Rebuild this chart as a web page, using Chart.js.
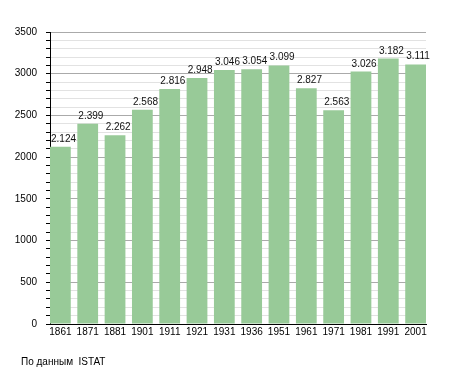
<!DOCTYPE html>
<html>
<head>
<meta charset="utf-8">
<script src="https://cdn.jsdelivr.net/npm/chart.js@4/dist/chart.umd.min.js"></script>
<style>
  body { margin: 0; background: #fff; }
  #wrap { position: relative; width: 455px; height: 373px; }
  #source { position: absolute; left: 21px; top: 356px; font: 10px "Liberation Sans", Arial, sans-serif; color: #000; }
</style>
</head>
<body>
<div id="wrap">
  <canvas id="popChart" width="455" height="373"></canvas>
  <div id="source">По данным&nbsp; ISTAT</div>
</div>
<script>
const years = ["1861", "1871", "1881", "1901", "1911", "1921", "1931", "1936", "1951", "1961", "1971", "1981", "1991", "2001"];
const population = [2124, 2399, 2262, 2568, 2816, 2948, 3046, 3054, 3099, 2827, 2563, 3026, 3182, 3111];
const yTicks = [0, 500, 1000, 1500, 2000, 2500, 3000, 3500];

const FONT = "'Liberation Sans', Arial, sans-serif";
const BAR_PCT = 0.76;

// etichette sopra le barre, formato italiano (2.124), allineate al bordo sinistro della barra
const valueLabels = {
  id: "valueLabels",
  afterDatasetsDraw(chart) {
    const c = chart.ctx;
    const meta = chart.getDatasetMeta(0);
    c.save();
    c.font = "10px " + FONT;
    c.fillStyle = "#111";
    c.textAlign = "left";
    c.textBaseline = "alphabetic";
    meta.data.forEach((bar, i) => {
      const txt = population[i].toLocaleString("it-IT");
      c.fillText(txt, bar.x - bar.width / 2 + 1, bar.y - 5);
    });
    c.restore();
  }
};

// x lineare: le barre toccano i bordi dell'area del grafico
const points = population.map((v, i) => ({ x: i, y: v }));

new Chart(document.getElementById("popChart"), {
  type: "bar",
  data: {
    datasets: [{
      data: points,
      backgroundColor: "#98ca98",
      barPercentage: BAR_PCT,
      categoryPercentage: 1
    }]
  },
  options: {
    responsive: false,
    animation: false,
    layout: { padding: { left: 0, top: 32, right: 29, bottom: 33 } },
    plugins: { legend: { display: false }, tooltip: { enabled: false } },
    scales: {
      x: {
        type: "linear",
        offset: false,
        min: -BAR_PCT / 2,
        max: years.length - 1 + BAR_PCT / 2,
        afterBuildTicks(scale) { scale.ticks = years.map((_, i) => ({ value: i })); },
        grid: { display: false, drawTicks: false },
        border: { color: "#000", width: 1 },
        ticks: {
          color: "#000",
          font: { family: FONT, size: 10 },
          padding: 2,
          maxRotation: 0,
          autoSkip: false,
          callback: v => years[v]
        },
        afterFit(scale) { scale.height = 16; }
      },
      y: {
        min: 0,
        max: 3500,
        ticks: {
          stepSize: 100,
          autoSkip: false,
          color: "#000",
          font: { family: FONT, size: 10 },
          padding: 9,
          callback: v => (yTicks.includes(v) ? v : "")
        },
        grid: {
          color: c => (yTicks.includes(c.tick.value) ? "#aaaaaa" : "#e2e2e2"),
          tickColor: "#000",
          tickLength: 4
        },
        border: { color: "#000", width: 1 },
        afterFit(scale) { scale.width = 50; }
      }
    }
  },
  plugins: [valueLabels]
});
</script>
</body>
</html>
